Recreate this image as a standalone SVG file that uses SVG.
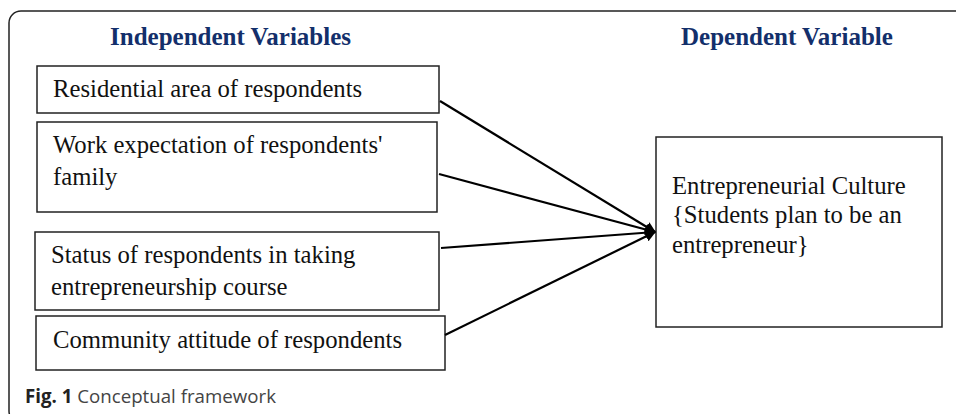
<svg xmlns="http://www.w3.org/2000/svg" width="956" height="414" viewBox="0 0 956 414">
<defs>
<style>
.frame{fill:none;stroke:#222;stroke-width:1.5}
.box{fill:#fff;stroke:#222;stroke-width:1.5}
.t{font-family:"Liberation Serif","Times New Roman",serif;font-size:24.7px;fill:#111}
.h{font-family:"Liberation Serif","Times New Roman",serif;font-size:25px;font-weight:bold;fill:#132f6b}
.cap{font-family:"Open Sans","Noto Sans",sans-serif;font-size:18.7px;fill:#444}
.conn{stroke:#000;stroke-width:2.2;fill:none;marker-end:url(#ah)}
</style>
<marker id="ah" viewBox="0 0 10 10" refX="9" refY="5" markerWidth="5" markerHeight="5" orient="auto" markerUnits="strokeWidth">
<path d="M0,0 L10,5 L0,10 z" fill="#000"/>
</marker>
</defs>
<rect class="frame" x="9" y="11" width="970" height="412" rx="12"/>
<text class="h" x="110" y="45">Independent Variables</text>
<text class="h" x="681" y="45">Dependent Variable</text>
<g id="n1"><rect class="box" x="37" y="66" width="402" height="47"/><text class="t" x="53" y="97">Residential area of respondents</text></g>
<g id="n2"><rect class="box" x="37" y="122" width="400" height="90"/><text class="t" x="53" y="153">Work expectation of respondents'</text><text class="t" x="53" y="185">family</text></g>
<g id="n3"><rect class="box" x="35" y="232" width="404" height="78"/><text class="t" x="51" y="263">Status of respondents in taking</text><text class="t" x="51" y="295">entrepreneurship course</text></g>
<g id="n4"><rect class="box" x="36" y="316" width="409" height="54"/><text class="t" x="53" y="348">Community attitude of respondents</text></g>
<g id="n5"><rect class="box" x="656" y="137" width="286" height="190"/><text class="t" x="672" y="194">Entrepreneurial Culture</text><text class="t" x="672" y="223">{Students plan to be an</text><text class="t" x="672" y="253">entrepreneur}</text></g>
<g id="connectors">
<line class="conn" x1="440" y1="101" x2="655" y2="232"/>
<line class="conn" x1="439" y1="174" x2="655" y2="232"/>
<line class="conn" x1="441" y1="248" x2="655" y2="232"/>
<line class="conn" x1="445" y1="335" x2="655" y2="232"/>
</g>
<text class="cap" x="25" y="403"><tspan font-weight="bold" fill="#222">Fig. 1</tspan> Conceptual framework</text>
</svg>
